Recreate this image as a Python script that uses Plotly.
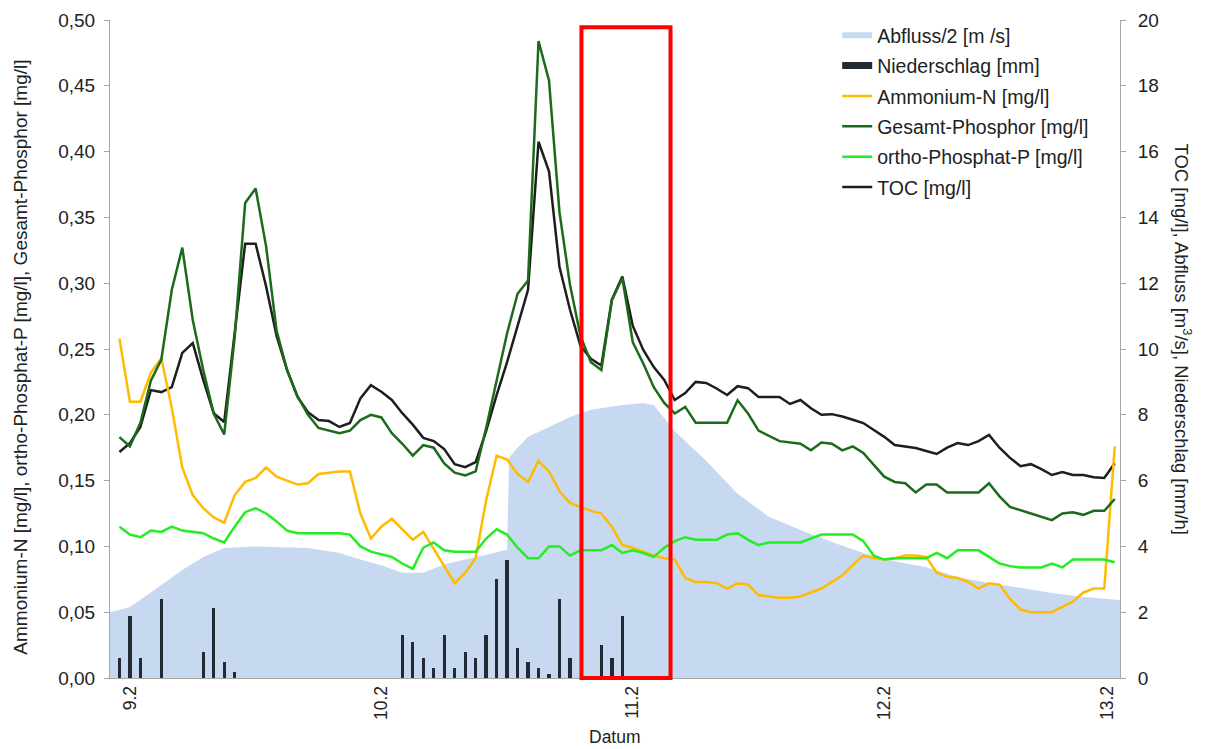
import plotly.graph_objects as go

# ---- data (hours since 9.2 00:00) ----
hours = list(range(-1, 95))

toc = [6.87, 7.14, 7.63, 8.75, 8.69, 8.84, 9.88, 10.18, 9.06, 8.05, 7.78, 10.58, 13.2, 13.2, 11.9, 10.4,
       9.36, 8.54, 8.08, 7.84, 7.81, 7.63, 7.75, 8.5, 8.9, 8.7, 8.45, 8.05, 7.7, 7.3, 7.2, 6.96,
       6.5, 6.41, 6.56, 7.5, 8.6, 9.6, 10.7, 11.8, 16.3, 15.4, 12.5, 11.2, 10.1, 9.7, 9.5, 11.5,
       12.2, 10.7, 9.97, 9.45, 9.06, 8.45, 8.66, 9.0, 8.97, 8.8, 8.6, 8.87, 8.81, 8.54, 8.54, 8.54,
       8.33, 8.45, 8.2, 8.0, 8.02, 7.95, 7.85, 7.75, 7.54, 7.33, 7.08, 7.03, 6.99, 6.9, 6.81, 7.0,
       7.14, 7.08, 7.2, 7.39, 7.0, 6.69, 6.44, 6.5, 6.35, 6.17, 6.26, 6.17, 6.17, 6.1, 6.08, 6.53]

ortho_p = [0.115, 0.109, 0.107, 0.112, 0.111, 0.115, 0.112, 0.111, 0.110, 0.106, 0.103, 0.115, 0.126, 0.129,
           0.125, 0.119, 0.112, 0.110, 0.110, 0.110, 0.110, 0.110, 0.109, 0.100, 0.096, 0.094, 0.092, 0.087,
           0.083, 0.099, 0.103, 0.097, 0.096, 0.096, 0.096, 0.106, 0.113, 0.109, 0.099, 0.091, 0.091, 0.100,
           0.100, 0.093, 0.097, 0.097, 0.097, 0.101, 0.095, 0.097, 0.095, 0.092, 0.099, 0.104, 0.107, 0.105,
           0.105, 0.105, 0.109, 0.110, 0.105, 0.101, 0.103, 0.103, 0.103, 0.103, 0.106, 0.109, 0.109, 0.109,
           0.109, 0.104, 0.093, 0.090, 0.091, 0.091, 0.091, 0.091, 0.095, 0.091, 0.097, 0.097, 0.097, 0.092,
           0.087, 0.085, 0.084, 0.084, 0.084, 0.087, 0.084, 0.090, 0.090, 0.090, 0.090, 0.088]

ammonium = [0.258, 0.210, 0.210, 0.232, 0.243, 0.205, 0.160, 0.139, 0.129, 0.122, 0.118, 0.139, 0.149, 0.152,
            0.160, 0.153, 0.150, 0.147, 0.148, 0.155, 0.156, 0.157, 0.157, 0.125, 0.106, 0.115, 0.121, 0.113,
            0.105, 0.111, 0.098, 0.085, 0.072, 0.080, 0.091, 0.135, 0.169, 0.166, 0.155, 0.149, 0.165, 0.157,
            0.142, 0.133, 0.130, 0.127, 0.125, 0.115, 0.101, 0.099, 0.096, 0.093, 0.091, 0.090, 0.076, 0.073,
            0.073, 0.072, 0.068, 0.072, 0.071, 0.063, 0.062, 0.061, 0.061, 0.062, 0.065, 0.068, 0.073, 0.078,
            0.086, 0.093, 0.091, 0.090, 0.091, 0.093, 0.093, 0.092, 0.080, 0.077, 0.076, 0.073, 0.068, 0.072,
            0.071, 0.060, 0.052, 0.050, 0.050, 0.050, 0.054, 0.058, 0.065, 0.068, 0.068, 0.176]

gp_hours = [-1, 0, 1, 2, 3, 4, 5, 6, 7, 8, 9, 10, 11, 12, 13, 14, 15, 16, 17, 18,
            20, 21, 22, 23, 24, 25, 26, 27, 28, 29, 30, 31, 32, 33, 34, 35, 36, 37, 38, 39,
            40, 41, 42, 43, 44, 45, 46, 47, 48, 49, 50, 51, 52, 53, 54,
            57, 58, 59, 60, 62, 64, 65, 66, 67, 68, 69, 70, 71, 72, 73, 74, 75, 76, 77, 78,
            81, 82, 83, 84, 86, 88, 89, 90, 91, 92, 93, 94]
gesamt_p = [0.183, 0.176, 0.194, 0.226, 0.242, 0.295, 0.327, 0.272, 0.234, 0.201, 0.185, 0.259, 0.361, 0.372,
            0.328, 0.264, 0.234, 0.214, 0.200, 0.190,
            0.186, 0.188, 0.196, 0.200, 0.198, 0.186, 0.178, 0.169, 0.177, 0.175, 0.163, 0.156, 0.154, 0.157,
            0.190, 0.225, 0.262, 0.292, 0.302, 0.484, 0.454, 0.354, 0.299, 0.260, 0.240, 0.234, 0.287, 0.304,
            0.255, 0.239, 0.221, 0.209, 0.201, 0.206, 0.194,
            0.194, 0.211, 0.201, 0.188, 0.180, 0.178, 0.173, 0.179, 0.178, 0.173, 0.176, 0.171, 0.162, 0.153,
            0.149, 0.148, 0.141, 0.147, 0.147, 0.141,
            0.141, 0.148, 0.138, 0.130, 0.125, 0.120, 0.125, 0.126, 0.124, 0.127, 0.127, 0.136]

abfluss_hours = [-1.9, 0, 2, 5, 7, 9, 12, 17, 20, 22, 24, 26, 28, 30, 32, 34, 36, 36.2, 37, 38,
                 40, 42, 44, 47, 49, 50, 52, 55, 58, 61, 64, 67, 70, 73, 76, 79, 82, 85, 88, 91, 94.5]
abfluss_half = [2.0, 2.16, 2.6, 3.28, 3.68, 3.95, 4.0, 3.95, 3.8, 3.6, 3.43, 3.2, 3.2, 3.45, 3.6, 3.75,
                3.9, 6.7, 7.0, 7.33, 7.63, 7.93, 8.15, 8.3, 8.36, 8.3, 7.5, 6.6, 5.6, 4.9, 4.5, 4.13,
                3.8, 3.55, 3.37, 3.07, 2.89, 2.74, 2.58, 2.46, 2.37]

rain_hours = [-1, 0, 1, 3, 7, 8, 9, 10, 26, 27, 28, 29, 30, 31, 32, 33, 34, 35, 36, 37, 38, 39, 40, 41,
              42, 45, 46, 47]
rain = [0.61, 1.88, 0.61, 2.4, 0.79, 2.13, 0.49, 0.18, 1.31, 1.1, 0.61, 0.3, 1.31, 0.3, 0.79, 0.61,
        1.31, 3.0, 3.58, 0.9, 0.49, 0.3, 0.12, 2.4, 0.61, 1.0, 0.61, 1.88]

x_tick_vals = [0, 24, 48, 72, 93.3]
x_tick_text = ["9.2", "10.2", "11.2", "12.2", "13.2"]
highlight = [43.1, 51.6]

assert len(toc) == len(hours) == len(ortho_p) == len(ammonium)
assert len(gp_hours) == len(gesamt_p)
assert len(abfluss_hours) == len(abfluss_half)
assert len(rain_hours) == len(rain)

FONT = "Liberation Sans, Arial, sans-serif"
GRAY = "#a6a6a6"
RAIN_COLOR = "#232a36"

fig = go.Figure()
fig.add_trace(go.Scatter(x=abfluss_hours, y=abfluss_half, mode="none", fill="tozeroy",
                         fillcolor="#c6d9f1", name="Abfluss/2 [m /s]", yaxis="y", legendgroup="a"))
fig.add_trace(go.Bar(x=rain_hours, y=rain, width=0.32, marker=dict(color=RAIN_COLOR, line=dict(width=0)),
                     name="Niederschlag [mm]", yaxis="y2", showlegend=False, legendgroup="b"))
# legend entry for the precipitation bars (wide dark key like the reference)
fig.add_trace(go.Scatter(x=[None], y=[None], mode="lines", line=dict(color=RAIN_COLOR, width=7),
                         name="Niederschlag [mm]", yaxis="y2", legendgroup="b"))
fig.add_trace(go.Scatter(x=hours, y=ammonium, mode="lines", line=dict(color="#ffbb00", width=2.5),
                         name="Ammonium-N [mg/l]", yaxis="y3", legendgroup="c"))
fig.add_trace(go.Scatter(x=gp_hours, y=gesamt_p, mode="lines", line=dict(color="#1b6b1b", width=2.5),
                         name="Gesamt-Phosphor [mg/l]", yaxis="y3", legendgroup="d"))
fig.add_trace(go.Scatter(x=hours, y=ortho_p, mode="lines", line=dict(color="#22ee22", width=2.5),
                         name="ortho-Phosphat-P [mg/l]", yaxis="y3", legendgroup="e"))
fig.add_trace(go.Scatter(x=hours, y=toc, mode="lines", line=dict(color="#1e1e1e", width=2.5),
                         name="TOC [mg/l]", yaxis="y2", legendgroup="f"))

# page body has an 8px margin: figure is 1202x741, placed at (8, 8)
fig.update_layout(
    width=1202, height=741,
    margin=dict(l=102, r=90, t=12, b=71, autoexpand=False),
    paper_bgcolor="white", plot_bgcolor="white",
    font=dict(family=FONT, color="#222222", size=18),
    separators=",.",
    showlegend=True,
    bargap=0,
    legend=dict(x=0.72, y=1.006, xanchor="left", yanchor="top", bgcolor="rgba(0,0,0,0)",
                font=dict(size=19.5, family=FONT, color="#222222"), tracegroupgap=2,
                itemwidth=30, traceorder="grouped"),
    xaxis=dict(range=[-1.9, 94.5], tickmode="array", tickvals=x_tick_vals, ticktext=x_tick_text,
               tickangle=-90, tickfont=dict(size=17.5), showline=True, linecolor=GRAY, linewidth=1,
               ticks="", showgrid=False, zeroline=False),
    yaxis=dict(range=[0, 20], dtick=2, side="right", showline=True, linecolor=GRAY, linewidth=1,
               ticks="outside", ticklen=5, tickcolor=GRAY, tickfont=dict(size=19),
               showgrid=False, zeroline=False, ticklabelstandoff=8),
    yaxis2=dict(range=[0, 20], overlaying="y", side="right", showticklabels=False, showline=False,
                ticks="", showgrid=False, zeroline=False),
    yaxis3=dict(range=[0, 0.5], dtick=0.05, tickformat=".2f", overlaying="y", side="left",
                showline=True, linecolor=GRAY, linewidth=1, ticks="outside", ticklen=5, tickcolor=GRAY,
                tickfont=dict(size=19), showgrid=False, zeroline=False, ticklabelstandoff=5),
    shapes=[dict(type="rect", xref="x", yref="paper", x0=highlight[0], x1=highlight[1], y0=0.0, y1=0.989,
                 line=dict(color="#ff0000", width=4), fillcolor="rgba(0,0,0,0)", layer="above")],
    annotations=[
        dict(text="Ammonium-N [mg/l], ortho-Phosphat-P [mg/l], Gesamt-Phosphor [mg/l]",
             xref="paper", yref="paper", x=-0.089, y=0.487, xanchor="center", yanchor="middle",
             textangle=-90, showarrow=False, font=dict(size=19)),
        dict(text="TOC [mg/l], Abfluss [m<sup>3</sup>/s], Niederschlag [mm/h]",
             xref="paper", yref="paper", x=1.062, y=0.515, xanchor="center", yanchor="middle",
             textangle=90, showarrow=False, font=dict(size=18.5)),
        dict(text="Datum", xref="paper", yref="paper", x=0.5, y=-0.09, xanchor="center",
             yanchor="middle", showarrow=False, font=dict(size=17.5)),
    ],
)

fig.write_html("out.html")
